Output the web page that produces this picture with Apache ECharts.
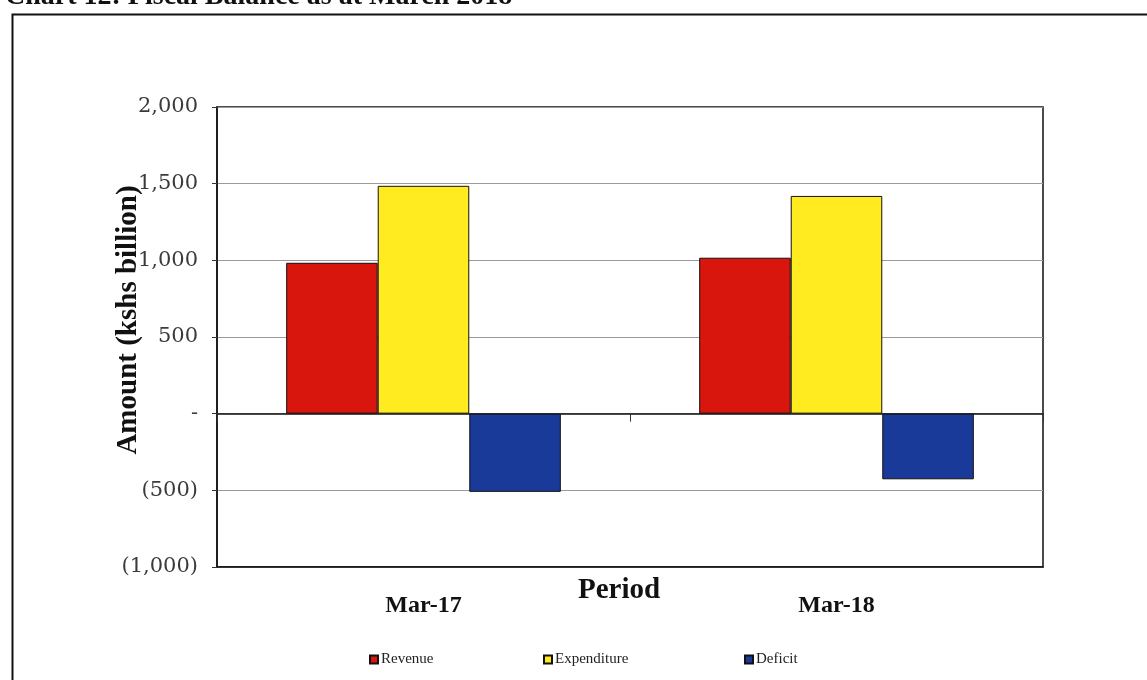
<!DOCTYPE html>
<html>
<head>
<meta charset="utf-8">
<script src="https://cdn.jsdelivr.net/npm/echarts@6/dist/echarts.min.js"></script>
<style>
html,body{margin:0;padding:0;background:#fff;}
#c{width:1147px;height:680px;}
</style>
</head>
<body>
<div id="c"></div>
<script>
var categories = ['Mar-17', 'Mar-18'];
var revenue = [984, 1017];
var expenditure = [1486, 1420];
var deficit = [-510, -428];
var seriesNames = ['Revenue', 'Expenditure', 'Deficit'];
var yTicks = {'2000': '2,000', '1500': '1,500', '1000': '1,000', '500': '500', '0': '-', '-500': '(500)', '-1000': '(1,000)'};

var serif = '"Liberation Serif", "DejaVu Serif", serif';
var wideSerif = '"DejaVu Serif", serif';
var chart = echarts.init(document.getElementById('c'));
var barStyle = function (color) {
  return { color: color, borderColor: '#111', borderWidth: 1 };
};
var legendText = { fontFamily: serif, fontSize: 15, color: '#222', padding: [0, 0, 0, -2] };
var legendLefts = [364, 538, 739];
var legends = seriesNames.map(function (n, i) {
  return {
    top: 647, left: legendLefts[i],
    itemWidth: 8, itemHeight: 8, icon: 'rect',
    textStyle: legendText, data: [n]
  };
});
chart.setOption({
  animation: false,
  backgroundColor: '#fff',
  title: {
    text: 'Chart 12: Fiscal Balance as at March 2018',
    left: 0, top: -22,
    textStyle: { fontFamily: serif, fontSize: 28, fontWeight: 'bold', color: '#111' }
  },
  grid: { left: 217, right: 104, top: 107, bottom: 113, show: true, borderColor: '#111', borderWidth: 1.5, backgroundColor: 'transparent' },
  legend: legends,
  xAxis: [{
    type: 'category', data: categories,
    axisLine: { onZero: false, lineStyle: { color: '#111', width: 1.5 } },
    axisTick: { show: false },
    axisLabel: { margin: 27, fontFamily: serif, fontSize: 24, fontWeight: 'bold', color: '#111' }
  }, {
    type: 'category', data: categories, position: 'bottom',
    axisLine: { onZero: true, lineStyle: { color: '#111', width: 1.5 } },
    axisTick: { show: true, length: 8, lineStyle: { color: '#333' } },
    axisLabel: { show: false }
  }],
  yAxis: {
    type: 'value', min: -1000, max: 2000, interval: 500,
    axisLine: { show: true, lineStyle: { color: '#111', width: 1.5 } },
    axisTick: { show: true, length: 5, lineStyle: { color: '#333' } },
    splitLine: { lineStyle: { color: '#9a9a9a', width: 1 } },
    axisLabel: {
      margin: 19, fontFamily: wideSerif, fontSize: 21, color: '#3a3a3a',
      formatter: function (v) { return yTicks[String(v)]; }
    }
  },
  graphic: [
    { type: 'rect', left: 10, top: 12, shape: { width: 1160, height: 700 }, style: { fill: 'none', stroke: '#111', lineWidth: 2 }, silent: true },
    { type: 'text', x: 129, y: 320, rotation: Math.PI / 2,
      style: { text: 'Amount (kshs billion)', font: 'bold 29px ' + serif, fill: '#111', textAlign: 'center', textVerticalAlign: 'middle' } },
    { type: 'text', x: 619, y: 591,
      style: { text: 'Period', font: 'bold 29px ' + serif, fill: '#111', textAlign: 'center', textVerticalAlign: 'middle' } }
  ],
  series: [
    { name: seriesNames[0], type: 'bar', data: revenue, barGap: '0%', barCategoryGap: '33.5%', itemStyle: barStyle('#d8160e') },
    { name: seriesNames[1], type: 'bar', data: expenditure, itemStyle: barStyle('#ffeb1f') },
    { name: seriesNames[2], type: 'bar', data: deficit, itemStyle: barStyle('#1a3a99') }
  ]
});
</script>
</body>
</html>
